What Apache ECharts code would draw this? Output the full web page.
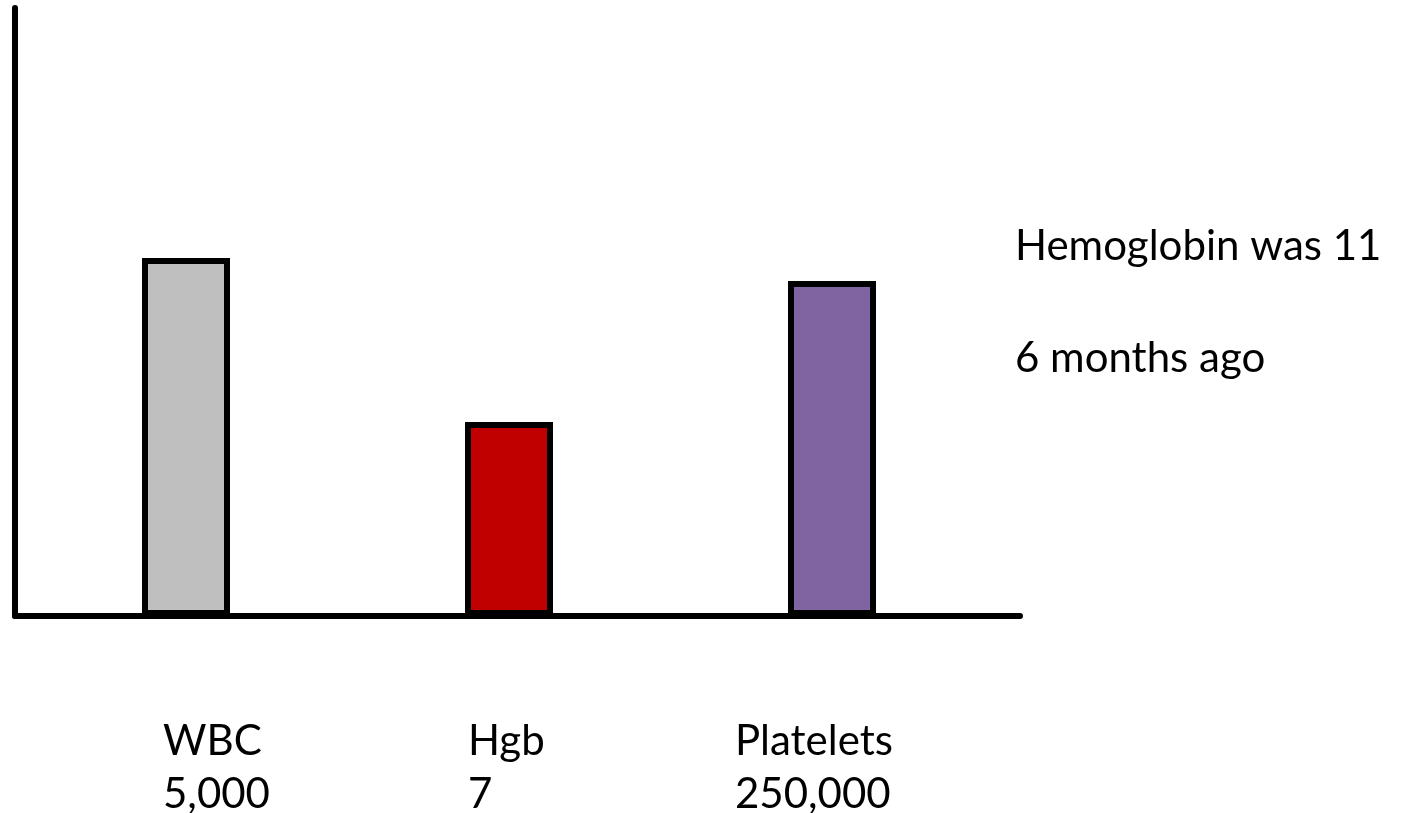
<!DOCTYPE html>
<html>
<head>
<meta charset="utf-8">
<script src="https://cdn.jsdelivr.net/npm/echarts@6/dist/echarts.min.js"></script>
<style>
  html, body { margin: 0; padding: 0; background: #fff; }
  #chart { width: 1412px; height: 813px; }
</style>
</head>
<body>
<div id="chart"></div>
<script>
// Blood count panel: relative bar heights with the lab values written underneath
const categories = ['WBC', 'Hgb', 'Platelets'];
const valueLabels = ['5,000', '7', '250,000'];
const barHeights = [58.9, 31.9, 55.1];          // relative height, axis runs 0–100
const barColors = ['#BFBFBF', '#C00000', '#8064A2'];
const noteLines = ['Hemoglobin was 11', '6 months ago'];

const FONT = 'Lato, "Open Sans", sans-serif';
const FONT_SIZE = 42;
const chart = echarts.init(document.getElementById('chart'));

// label anchors (left edge of each category caption)
const labelLeft = [163, 468, 735];

const graphics = [];
categories.forEach((c, i) => {
  graphics.push({
    type: 'text', left: labelLeft[i], top: 715,
    style: { text: c + '\n' + valueLabels[i], font: FONT_SIZE + 'px ' + FONT, fill: '#000', lineHeight: 53 }
  });
});
graphics.push({
  type: 'text', left: 1015, top: 225,
  style: { text: noteLines[0], font: FONT_SIZE + 'px ' + FONT, fill: '#000' }
});
graphics.push({
  type: 'text', left: 1015, top: 337,
  style: { text: noteLines[1], font: FONT_SIZE + 'px ' + FONT, fill: '#000' }
});

chart.setOption({
  animation: false,
  backgroundColor: '#fff',
  grid: [
    // frame: draws the two heavy axis lines
    { left: 15, right: 392, top: 8, bottom: 197 },
    // plot area for the bars
    { left: 24.5, width: 969, top: 8, bottom: 197 }
  ],
  xAxis: [
    { gridIndex: 0, type: 'value', min: 0, max: 1,
      axisLine: { show: true, lineStyle: { color: '#000', width: 6 } },
      axisTick: { show: false }, axisLabel: { show: false }, splitLine: { show: false } },
    { gridIndex: 1, type: 'category', data: categories, boundaryGap: true,
      axisLine: { show: false }, axisTick: { show: false }, axisLabel: { show: false } }
  ],
  yAxis: [
    { gridIndex: 0, type: 'value', min: 0, max: 100,
      axisLine: { show: true, lineStyle: { color: '#000', width: 6 } },
      axisTick: { show: false }, axisLabel: { show: false }, splitLine: { show: false } },
    { gridIndex: 1, type: 'value', min: 0, max: 100,
      axisLine: { show: false }, axisTick: { show: false }, axisLabel: { show: false }, splitLine: { show: false } }
  ],
  series: [
    { type: 'bar', xAxisIndex: 1, yAxisIndex: 1, barWidth: 88, z: 1,
      data: barHeights.map((v, i) => ({
        value: v,
        itemStyle: { color: barColors[i], borderColor: '#000', borderWidth: 6 }
      }))
    }
  ],
  graphic: graphics
});
</script>
</body>
</html>
